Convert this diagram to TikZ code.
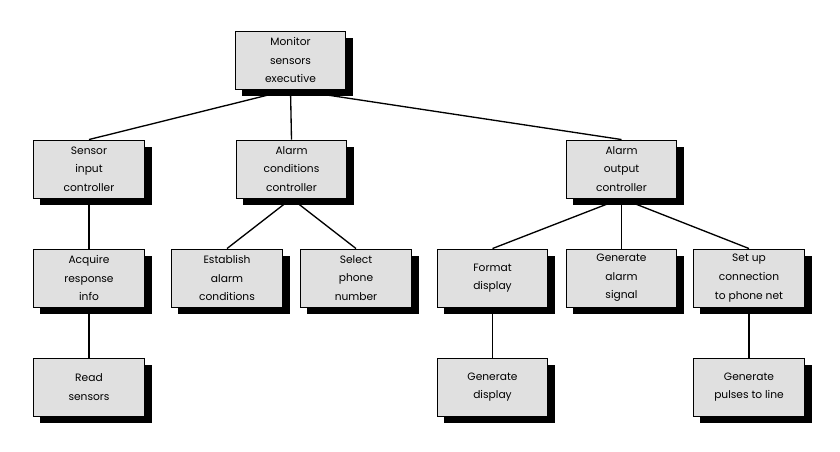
\documentclass[tikz,border=0pt]{standalone}
\usepackage{fontspec}
\setmainfont{Poppins}
\usetikzlibrary{backgrounds,calc}
\begin{document}
\begin{tikzpicture}[x=0.75pt,y=-0.75pt,
  box/.style={draw=black,line width=0.7pt,fill=black!12,
    minimum width=83pt,minimum height=43.5pt,inner sep=1pt,
    align=center,font=\fontsize{8}{14}\selectfont},
  link/.style={line width=1pt,draw=black},
  boxshadow/.style={fill=black}]
\useasboundingbox (0,0) rectangle (840,451);
\node[box] (mon) at (290.5,60) {Monitor\\sensors\\executive};
\node[box] (sic) at (89,169) {Sensor\\input\\controller};
\node[box] (acc) at (291.5,169) {Alarm\\conditions\\controller};
\node[box] (aoc) at (621.5,169) {Alarm\\output\\controller};
\node[box] (ari) at (89,278) {Acquire\\response\\info};
\node[box] (eac) at (227,278) {Establish\\alarm\\conditions};
\node[box] (spn) at (356,278) {Select\\phone\\number};
\node[box] (fd) at (492.5,278) {Format\\display};
\node[box] (gas) at (621.5,278) {Generate\\alarm\\signal};
\node[box] (suc) at (749,278) {Set up\\connection\\to phone net};
\node[box] (rs) at (89,387) {Read\\sensors};
\node[box] (gd) at (492.5,387) {Generate\\display};
\node[box] (gpl) at (749,387) {Generate\\pulses to line};
\begin{scope}[on background layer]
\draw[link] (mon.south) -- (sic.north);
\draw[link] (mon.south) -- (acc.north);
\draw[link] (mon.south) -- (aoc.north);
\draw[link] (sic.south) -- (ari.north);
\draw[link] (ari.south) -- (rs.north);
\draw[link] (acc.south) -- (eac.north);
\draw[link] (acc.south) -- (spn.north);
\draw[link] (aoc.south) -- (fd.north);
\draw[link] (aoc.south) -- (gas.north);
\draw[link] (aoc.south) -- (suc.north);
\draw[link] (fd.south) -- (gd.north);
\draw[link] (suc.south) -- (gpl.north);
\foreach \n in {mon,sic,acc,aoc,ari,eac,spn,fd,gas,suc,rs,gd,gpl}
  \fill[boxshadow] ($(\n.south west)+(7,7)$) rectangle ($(\n.north east)+(7,7)$);
\end{scope}
\end{tikzpicture}
\end{document}
